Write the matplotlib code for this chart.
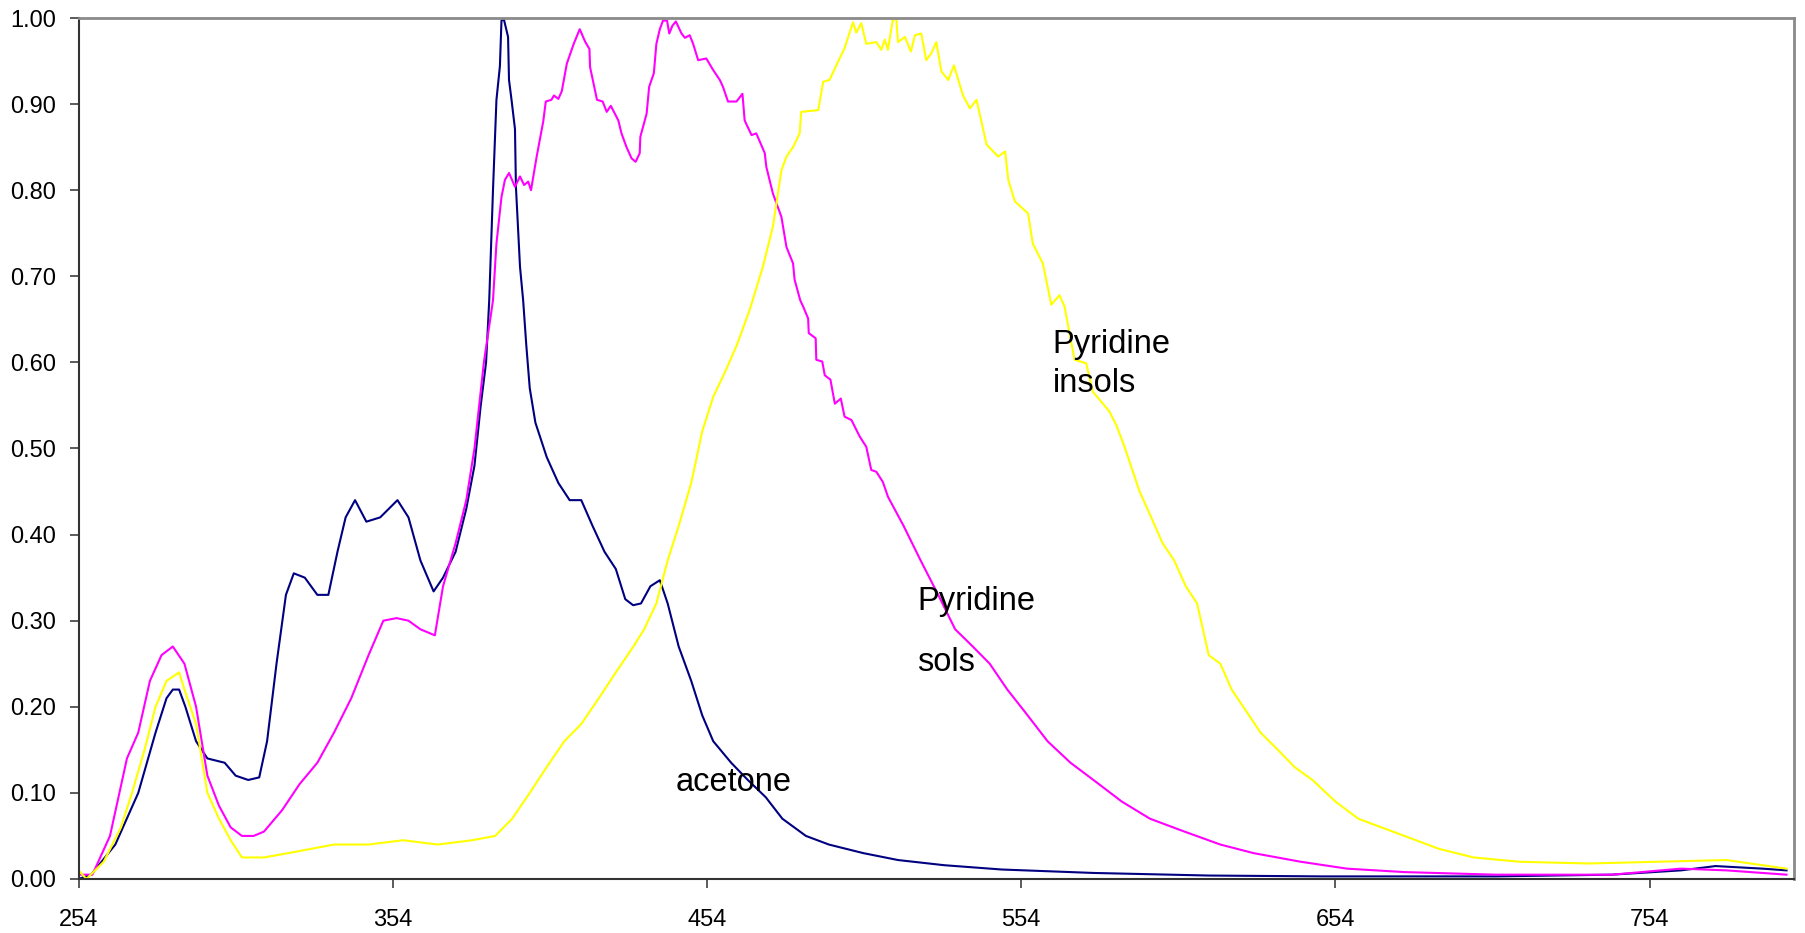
from matplotlib import pyplot as plt

plt.rcParams['font.family'] = ['Liberation Sans', 'DejaVu Sans']

# wavelength (nm) / normalised intensity
acetone_x = [254, 258, 265.7, 273, 278.5, 282, 284, 286, 288, 291.4,
             295, 300.5, 304, 308, 311.5, 314, 317, 320, 322.5, 326,
             330, 333.5, 336.4, 339, 342, 345.6, 350, 355.5, 359, 362.8,
             367, 370, 374, 377.4, 380, 382, 383.7, 384.7, 385.9, 387,
             388.1, 388.6, 389.4, 390.7, 391, 391.8, 392.9, 393.2, 394.5, 395.5,
             396.5, 397.6, 399.4, 403, 406.7, 410.3, 414, 417.6, 421.4, 425,
             428, 430.5, 433, 436, 439, 441.5, 445, 449, 452.5, 456,
             461.7, 467, 472.7, 478, 485.5, 492.8, 503.8, 514.8, 529.5, 547.8,
             577, 613.7, 650, 705, 742, 764, 775, 790, 797.6]
acetone_y = [0.0, 0.005, 0.04, 0.10, 0.17, 0.21, 0.22, 0.22, 0.20, 0.16,
             0.14, 0.135, 0.12, 0.115, 0.118, 0.16, 0.25, 0.33, 0.355, 0.35,
             0.33, 0.33, 0.38, 0.42, 0.44, 0.415, 0.42, 0.44, 0.42, 0.37,
             0.334, 0.35, 0.38, 0.43, 0.48, 0.55, 0.60, 0.672, 0.80, 0.905,
             0.944, 0.997, 0.998, 0.978, 0.928, 0.905, 0.871, 0.804, 0.711, 0.672,
             0.62, 0.57, 0.53, 0.49, 0.46, 0.44, 0.44, 0.41, 0.38, 0.36,
             0.325, 0.318, 0.32, 0.34, 0.347, 0.32, 0.27, 0.23, 0.19, 0.16,
             0.135, 0.115, 0.095, 0.07, 0.05, 0.04, 0.03, 0.022, 0.016, 0.011,
             0.007, 0.004, 0.003, 0.003, 0.005, 0.01, 0.015, 0.012, 0.01]

sols_x = [254, 258.4, 264, 269.4, 273, 276.7, 280.4, 284, 287.7, 291.4,
          295, 298.7, 302.4, 306, 309.7, 313, 318.8, 324.3, 330, 335.3,
          340.8, 346.3, 351, 355.2, 359, 362.8, 367.4, 370, 374, 377.4,
          380, 383, 385.9, 387, 388.6, 389.7, 391, 392.9, 394.5, 395.8,
          397.1, 398, 399.8, 401.9, 402.7, 404.5, 405.3, 406.7, 407.8, 409.4,
          411.6, 413.5, 415.3, 416.6, 416.8, 419, 420.8, 422.1, 423.4, 425.8,
          426.8, 428.4, 430, 431.3, 432.6, 432.8, 434.8, 435.6, 437.1, 437.9,
          439, 440, 441.3, 442, 443, 444.1, 445.9, 447, 448.5, 449.6,
          451.2, 453.8, 455.9, 458.1, 459.1, 460.7, 463.4, 465.3, 466, 468.2,
          469.7, 472.4, 472.9, 475, 477.7, 479.3, 481.4, 481.9, 483.7, 484.6,
          486.2, 486.4, 488.6, 488.8, 490.7, 491.5, 493.3, 494.7, 496.6, 497.8,
          500, 502.6, 504.7, 506.3, 507.9, 510, 511.6, 516.6, 522, 527.6,
          533, 538.6, 544, 549.6, 555, 562.4, 569.7, 577, 586, 595,
          606, 617.4, 628, 643, 657.7, 676, 705, 742, 764, 778.5,
          797.6]
sols_y = [0.005, 0.005, 0.05, 0.14, 0.17, 0.23, 0.26, 0.27, 0.25, 0.20,
          0.12, 0.085, 0.06, 0.05, 0.05, 0.055, 0.08, 0.11, 0.135, 0.17,
          0.21, 0.26, 0.30, 0.303, 0.30, 0.29, 0.283, 0.34, 0.39, 0.44,
          0.50, 0.60, 0.672, 0.738, 0.792, 0.812, 0.820, 0.804, 0.816, 0.806,
          0.810, 0.800, 0.839, 0.880, 0.903, 0.905, 0.910, 0.906, 0.915, 0.947,
          0.970, 0.987, 0.972, 0.964, 0.943, 0.905, 0.903, 0.891, 0.898, 0.881,
          0.866, 0.850, 0.837, 0.833, 0.843, 0.862, 0.889, 0.920, 0.936, 0.970,
          0.987, 0.997, 0.997, 0.982, 0.991, 0.996, 0.982, 0.977, 0.980, 0.970,
          0.951, 0.953, 0.940, 0.928, 0.920, 0.903, 0.903, 0.912, 0.881, 0.864,
          0.866, 0.843, 0.827, 0.796, 0.769, 0.734, 0.715, 0.696, 0.672, 0.665,
          0.651, 0.634, 0.628, 0.603, 0.601, 0.585, 0.580, 0.552, 0.558, 0.537,
          0.533, 0.514, 0.502, 0.475, 0.473, 0.461, 0.444, 0.41, 0.37, 0.33,
          0.29, 0.27, 0.25, 0.22, 0.195, 0.16, 0.135, 0.115, 0.09, 0.07,
          0.055, 0.04, 0.03, 0.02, 0.012, 0.008, 0.005, 0.005, 0.012, 0.01,
          0.005]

insols_x = [254, 256.5, 262, 267.5, 271, 275, 278.5, 282, 286, 287.7,
            291.4, 295, 298.7, 302.4, 306, 313, 320.7, 328, 335.3, 346.3,
            357.3, 368.3, 379.3, 386.6, 392, 397.6, 403, 408.6, 414, 419.6,
            425, 430.6, 434, 437.9, 441.5, 445, 449, 452.5, 456, 459.9,
            463.5, 467.6, 471.8, 475, 477.7, 479.3, 481.4, 483.5, 484, 489.4,
            491, 493, 495.7, 497.8, 499.4, 500.5, 501.5, 503.1, 504.7, 507.9,
            509.5, 510.6, 511.6, 513.2, 514.3, 514.8, 517, 518.9, 520.2, 522.2,
            523.8, 525.4, 527, 528.6, 530.8, 532.6, 535.5, 537.7, 539.8, 543,
            546.7, 548.9, 549.9, 552, 556.2, 557.7, 560.9, 563.6, 566.2, 567.8,
            571, 574.7, 576.8, 582.1, 584.3, 586.9, 591.7, 595.4, 599, 602.7,
            606.4, 610, 613.7, 617.4, 621, 624.7, 630.2, 635.7, 641, 646.7,
            654, 661.3, 668.6, 676, 687, 698, 712.6, 734.6, 756.6, 778.5,
            797.6]
insols_y = [0.01, 0.0, 0.02, 0.06, 0.10, 0.15, 0.20, 0.23, 0.24, 0.22,
            0.18, 0.10, 0.07, 0.045, 0.025, 0.025, 0.03, 0.035, 0.04, 0.04,
            0.045, 0.04, 0.045, 0.05, 0.07, 0.10, 0.13, 0.16, 0.18, 0.21,
            0.24, 0.27, 0.29, 0.32, 0.37, 0.41, 0.46, 0.52, 0.56, 0.59,
            0.62, 0.661, 0.711, 0.758, 0.823, 0.839, 0.850, 0.866, 0.891, 0.893,
            0.926, 0.928, 0.949, 0.965, 0.983, 0.995, 0.983, 0.994, 0.970, 0.972,
            0.963, 0.975, 0.963, 0.999, 0.998, 0.972, 0.978, 0.961, 0.980, 0.982,
            0.951, 0.959, 0.972, 0.938, 0.928, 0.945, 0.910, 0.895, 0.905, 0.853,
            0.839, 0.845, 0.812, 0.787, 0.773, 0.738, 0.715, 0.667, 0.678, 0.665,
            0.603, 0.599, 0.566, 0.543, 0.527, 0.502, 0.45, 0.42, 0.39, 0.37,
            0.34, 0.32, 0.26, 0.25, 0.22, 0.20, 0.17, 0.15, 0.13, 0.115,
            0.09, 0.07, 0.06, 0.05, 0.035, 0.025, 0.02, 0.018, 0.02, 0.022,
            0.012]

x_ticks = [254, 354, 454, 554, 654, 754]
y_ticks = [0.0, 0.1, 0.2, 0.3, 0.4, 0.5, 0.6, 0.7, 0.8, 0.9, 1.0]

fig = plt.figure(figsize=(18.06, 9.33), dpi=100)
ax = fig.add_axes([0.0435, 0.0579, 0.9499, 0.9228])

ax.plot(acetone_x, acetone_y, color='#000080', lw=1.5)
ax.plot(sols_x, sols_y, color='#FF00FF', lw=1.5)
ax.plot(insols_x, insols_y, color='#FFFF00', lw=1.5)

# in-plot labels
lbl = dict(fontsize=23.5, va='baseline')
ax.text(564, 0.611, 'Pyridine', **lbl)
ax.text(564, 0.566, 'insols', **lbl)
ax.text(521, 0.312, 'Pyridine', **lbl)
ax.text(521, 0.241, 'sols', **lbl)
ax.text(444, 0.102, 'acetone', **lbl)

ax.set_xlim(254, 800)
ax.set_ylim(0, 1.0)
ax.set_xticks(x_ticks)
ax.set_xticklabels([str(v) for v in x_ticks])
ax.set_yticks(y_ticks)
ax.set_yticklabels(['%.2f' % v for v in y_ticks])
ax.tick_params(axis='both', labelsize=17, direction='out', length=6.5, width=1.2, color='#404040')
ax.tick_params(axis='y', pad=10)
ax.tick_params(axis='x', pad=15)

for side in ['left', 'bottom']:
    ax.spines[side].set_color('#333333')
    ax.spines[side].set_linewidth(1.5)
for side in ['top', 'right']:
    ax.spines[side].set_color('#8a8a8a')
    ax.spines[side].set_linewidth(2)

fig.savefig('out.png', dpi=100)
